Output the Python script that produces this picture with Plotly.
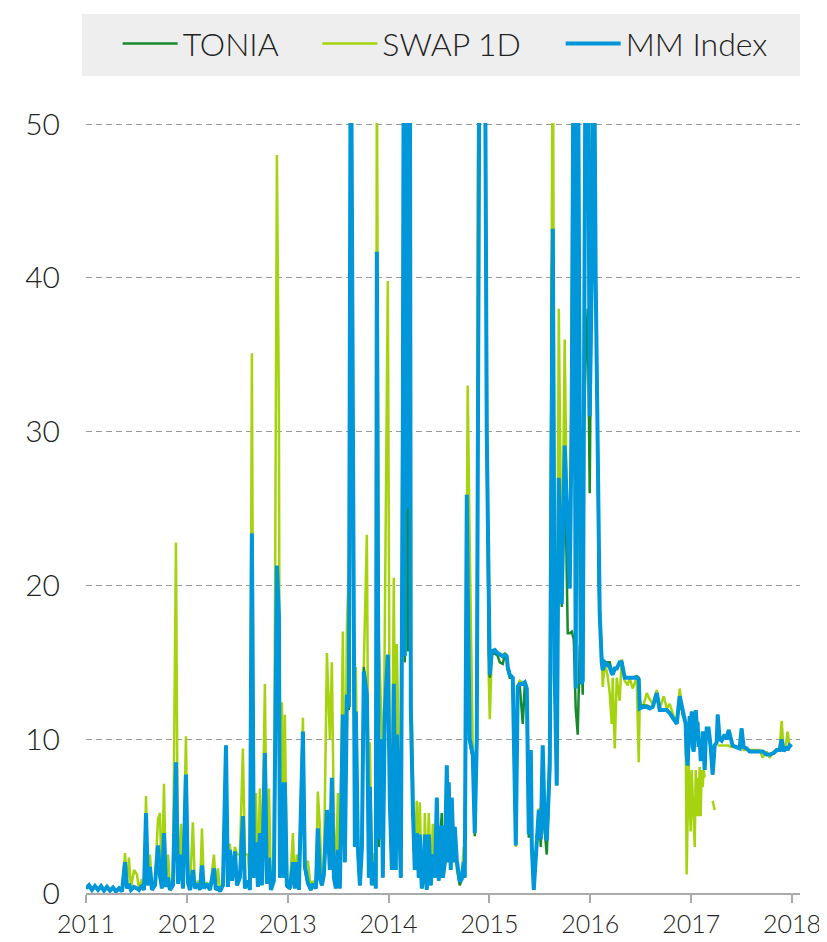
import pandas as pd
import numpy as np
import plotly.graph_objects as go

# time in years since 2011-01-01 (shared by all series)
t_years = [
    0.000, 0.030, 0.059, 0.089, 0.119, 0.149, 0.178, 0.208, 0.238, 0.268,
    0.297, 0.327, 0.357, 0.387, 0.406, 0.426, 0.446, 0.476, 0.505, 0.525,
    0.555, 0.575, 0.595, 0.614, 0.634, 0.654, 0.684, 0.714, 0.733, 0.753,
    0.773, 0.793, 0.813, 0.833, 0.862, 0.892, 0.912, 0.942, 0.961, 0.991,
    1.011, 1.031, 1.060, 1.080, 1.110, 1.130, 1.150, 1.169, 1.199, 1.229,
    1.269, 1.288, 1.308, 1.328, 1.358, 1.388, 1.407, 1.427, 1.447, 1.477,
    1.497, 1.526, 1.556, 1.576, 1.606, 1.625, 1.645, 1.665, 1.685, 1.705,
    1.724, 1.744, 1.774, 1.794, 1.814, 1.834, 1.863, 1.893, 1.913, 1.923,
    1.943, 1.962, 1.972, 1.992, 2.022, 2.052, 2.071, 2.091, 2.111, 2.151,
    2.170, 2.200, 2.230, 2.250, 2.280, 2.299, 2.319, 2.339, 2.359, 2.389,
    2.418, 2.438, 2.458, 2.478, 2.498, 2.517, 2.547, 2.567, 2.587, 2.607,
    2.626, 2.646, 2.666, 2.676, 2.696, 2.716, 2.736, 2.755, 2.785, 2.805,
    2.815, 2.834, 2.854, 2.874, 2.884, 2.904, 2.934, 2.943, 2.963, 2.993,
    3.013, 3.033, 3.052, 3.072, 3.082, 3.102, 3.122, 3.142, 3.152, 3.161,
    3.171, 3.181, 3.191, 3.201, 3.211, 3.221, 3.241, 3.260, 3.280, 3.300,
    3.310, 3.330, 3.350, 3.360, 3.379, 3.399, 3.419, 3.439, 3.459, 3.479,
    3.498, 3.508, 3.528, 3.538, 3.558, 3.578, 3.588, 3.597, 3.617, 3.627,
    3.647, 3.657, 3.677, 3.696, 3.706, 3.726, 3.746, 3.756, 3.776, 3.785,
    3.805, 3.835, 3.855, 3.875, 3.885, 3.904, 3.934, 3.954, 3.974, 3.994,
    4.004, 4.024, 4.053, 4.083, 4.103, 4.133, 4.153, 4.172, 4.182, 4.202,
    4.232, 4.262, 4.281, 4.301, 4.331, 4.351, 4.371, 4.391, 4.411, 4.421,
    4.440, 4.470, 4.490, 4.510, 4.529, 4.549, 4.569, 4.599, 4.619, 4.629,
    4.648, 4.668, 4.688, 4.718, 4.747, 4.777, 4.797, 4.817, 4.837, 4.856,
    4.876, 4.896, 4.906, 4.926, 4.936, 4.956, 4.975, 4.995, 5.015, 5.035,
    5.054, 5.074, 5.084, 5.094, 5.114, 5.124, 5.144, 5.173, 5.193, 5.213,
    5.223, 5.243, 5.263, 5.292, 5.312, 5.342, 5.372, 5.391, 5.421, 5.461,
    5.481, 5.491, 5.520, 5.560, 5.590, 5.620, 5.660, 5.689, 5.729, 5.759,
    5.788, 5.828, 5.858, 5.887, 5.917, 5.946, 5.956, 5.966, 5.976, 5.986,
    5.996, 6.006, 6.016, 6.026, 6.036, 6.046, 6.055, 6.065, 6.075, 6.085,
    6.095, 6.105, 6.115, 6.125, 6.135, 6.145, 6.155, 6.174, 6.194, 6.214,
    6.234, 6.254, 6.264, 6.283, 6.303, 6.333, 6.353, 6.373, 6.393, 6.412,
    6.442, 6.482, 6.501, 6.521, 6.551, 6.581, 6.630, 6.680, 6.710, 6.749,
    6.779, 6.819, 6.848, 6.878, 6.898, 6.918, 6.938, 6.957, 6.977, 6.997,
]

tonia = [
    .3, .5, .2, .45, .2, .45, .15, .4, .15, .35,
    .1, .3, .1, 1.8, .3, .5, .2, .4, .3, .2,
    .5, .2, 5.0, .5, 1.6, .2, .5, 2.8, 1.0, .3,
    3.6, .4, 1.0, .2, .5, 8.3, .6, 2.3, .3, 7.5,
    .7, .2, 1.4, .3, .6, .2, 1.7, .3, .6, .2,
    1.5, .2, .3, .1, .5, 9.5, .4, 2.6, .8, 2.5,
    .5, 1.0, 4.8, .3, .8, .2, 23.0, 1.0, 3.1, .4,
    3.7, .5, 9.0, .6, 2.2, .2, .8, 21.2, 17.8, 1.0,
    7.0, 1.0, 7.0, .4, .3, 1.8, .3, 1.8, .2, 10.3,
    1.5, .6, .2, .6, .3, 4.0, 1.0, .5, 1.2, 5.3,
    1.5, 7.3, 1.0, .3, 2.5, .3, 11.4, 2.0, 12.7, 11.9,
    60, 24.5, 3.0, 11.6, 2.7, .5, 3.0, 14.7, 12.7, 1.0,
    6.8, .5, 2.0, .3, 41.5, 3.0, 10.0, 1.0, 11.6, 15.3,
    5.7, 1.5, 13.4, 1.5, 10.1, 5.5, 1.0, 30.8, 60, 15.0,
    21.1, 60, 15.7, 60, 60, 12, 5.4, 1.5, 3.7, 1.0,
    3.6, .3, 1.2, 3.6, .2, 3.6, .5, 2.5, 1.0, 6.0,
    .8, 3.0, 5.2, 1.0, 2.0, 8.1, 2.0, 7.0, 1.5, 6.0,
    2.0, 4.2, 1.9, 1.0, .5, .9, 2.0, 1.0, 25.7, 20,
    9.8, 8.8, 3.7, 10, 28.6, 60, 60, 60, 29.7, 15.7,
    14.0, 15.5, 15.6, 15.4, 15.0, 14.9, 15.5, 15.3, 14.5, 14.0,
    14.0, 3.1, 13.0, 13.5, 11.0, 13.5, 12.5, 3.6, 8.8, 3.0,
    .2, 3.5, 5.2, 3.0, 9.0, 4.0, 2.5, 8.0, 40.5, 43,
    14, 7.0, 26.8, 18.6, 28.9, 16.9, 16.9, 17.0, 16.5, 12.0,
    10.3, 16, 16.5, 12.9, 30, 35, 38.0, 26, 40, 60,
    40, 29.8, 20, 18, 15.5, 14.5, 15.0, 15.0, 15.0, 14.5,
    14.2, 14.6, 14.6, 15.0, 15.0, 14.0, 14.0, 14.0, 14.0, 14.1,
    14.0, 12.2, 12.2, 12.2, 12.1, 12.1, 13.0, 12.0, 11.9, 11.9,
    11.7, 11.3, 11.0, 12.8, 11.7, 11.0, 9.0, 8.3, 10.0, 11.5,
    10.5, 11.8, 9.5, 9.2, 10.5, 11.9, 11.0, 11.0, 9.5, 10.0,
    8.7, 8.7, 10.5, 9.0, 8.0, 9.9, 10.7, 10.7, 9.5, 7.7,
    9.6, 9.8, 11.6, 10.0, 9.9, 10.3, 10.0, 10.6, 10.0, 9.6,
    9.5, 9.4, 10.7, 9.5, 9.4, 9.2, 9.2, 9.2, 9.2, 9.0,
    9.0, 9.1, 9.3, 9.3, 10.0, 9.2, 9.5, 9.3, 9.6, 9.5,
]

swap_1d = [
    .3, .5, .2, .45, .2, .45, .15, .4, .15, .35,
    .1, .3, .2, 2.6, .5, 2.3, .3, 1.5, 1.2, .3,
    .9, .2, 6.3, .8, 2.5, .3, .8, 4.8, 5.2, .4,
    7.1, .6, 2.5, .3, .6, 22.8, .8, 4.5, .4, 10.2,
    1.0, .3, 4.6, .4, .8, .2, 4.2, .4, .7, .2,
    2.5, .3, 1.6, .2, .6, 9.6, .5, 3.2, 1.0, 3.0,
    2.5, 2.5, 9.4, 2.5, 2.5, .3, 35.1, 1.5, 6.5, .5,
    6.8, .8, 13.6, 1.0, 6.8, .3, 1.0, 48.0, 31.2, 1.5,
    12.4, 1.2, 11.6, .8, .5, 3.9, .4, 2.5, .3, 11.4,
    1.6, 2.1, .3, .8, .4, 6.6, 4.3, .7, 1.5, 15.6,
    10.0, 15.0, 4.6, .8, 6.5, .5, 17.0, 3.0, 17.3, 21.3,
    60, 25, 4.0, 14.7, 3.0, .8, 3.5, 14.8, 23.3, 1.5,
    9.8, .8, 2.6, .5, 55, 16.5, 10.3, 1.5, 17.3, 39.8,
    6.0, 2.5, 20.5, 2.5, 16.2, 8.0, 1.5, 40, 60, 30,
    60, 60, 40, 60, 60, 15, 8.0, 2.0, 6.0, 1.5,
    5.9, .5, 1.5, 5.2, .3, 5.2, .8, 4.5, 1.5, 6.0,
    3.0, 2.5, 4.5, 1.0, 1.5, 8.0, 2.0, 7.0, 1.5, 6.1,
    2.0, 4.3, 1.5, 1.0, .6, 1.1, 3.0, 1.5, 26.7, 33.0,
    22.7, 9.5, 4.5, 12, 47.9, 60, 60, 60, 35, 14,
    11.3, 15.6, 15.8, 15.6, 15.5, 15.5, 15.6, 15.5, 14.5, 14.2,
    14.0, 3.0, 13.5, 13.8, 13.7, 13.6, 13.5, 3.9, 9.0, 3.0,
    .2, 3.8, 5.5, 3.5, 9.3, 4.5, 3.5, 10.3, 42.0, 60,
    15, 7.5, 38.0, 19, 36.0, 20, 20, 40.1, 60, 25,
    30, 20, 14, 20, 33, 60, 60, 30, 50, 60,
    40, 30, 21, 18, 15.5, 13.4, 15.0, 14.1, 13.0, 11.0,
    14.0, 9.4, 14.0, 12.5, 15.2, 13.8, 13.5, 14.0, 13.3, 14.0,
    8.5, 12.5, 12.0, 13.0, 12.6, 12.3, 13.2, 12.0, 12.8, 12.0,
    12.3, 11.5, 11.2, 13.3, 11.5, 11.2, 1.2, 7.0, 8.5, 6.0,
    4.0, 8.0, 6.0, 5.0, 3.0, 8.0, 5.0, 7.5, 5.0, 8.2,
    5.0, 8.0, 6.9, 8.0, 7.5, None, None, None, None, 6.0,
    5.4, None, 9.6, 9.6, 9.6, 9.6, 9.6, 9.6, 9.5, 9.5,
    9.5, 9.5, 9.5, 9.3, 9.3, 9.3, 9.3, 9.3, 8.8, 9.2,
    8.8, 9.2, 9.2, 9.4, 11.2, 9.3, 9.5, 10.5, 9.5, 9.6,
]

mm_index = [
    .3, .5, .2, .45, .2, .45, .15, .4, .15, .35,
    .1, .3, .1, 2.0, .3, .6, .2, .4, .3, .2,
    .5, .2, 5.2, .5, 1.7, .2, .5, 3.1, 1.2, .3,
    3.9, .4, 1.0, .2, .5, 8.5, .6, 2.5, .3, 7.7,
    .7, .2, 1.5, .3, .6, .2, 1.8, .3, .6, .2,
    1.6, .2, .4, .1, .5, 9.6, .4, 2.8, .8, 2.7,
    .5, 1.0, 5.0, .3, .8, .2, 23.4, 1.0, 3.3, .4,
    3.9, .5, 9.1, .6, 2.3, .2, .8, 21.3, 18.0, 1.0,
    7.2, 1.0, 7.2, .5, .3, 2.0, .3, 2.0, .2, 10.5,
    1.8, .65, .2, .6, .3, 4.2, 1.0, .5, 1.2, 5.4,
    1.5, 7.5, 1.0, .3, 2.8, .3, 11.6, 2.0, 12.9, 12.1,
    60, 24.7, 3.0, 11.8, 2.9, .5, 3.0, 14.4, 12.9, 1.0,
    6.9, .5, 2.0, .3, 41.7, 3.5, 10.0, 1.0, 11.8, 15.5,
    5.9, 1.5, 13.6, 1.5, 10.3, 5.7, 1.0, 31.0, 60, 15.4,
    60, 60, 25, 60, 60, 12, 5.6, 1.5, 3.9, 1.0,
    3.8, .3, 1.3, 3.8, .2, 3.8, .5, 2.5, 1.0, 6.2,
    .8, 3.0, 4.4, 1.0, 2.0, 8.3, 2.0, 7.2, 1.5, 6.2,
    2.0, 4.3, 2.1, 1.0, .75, .9, 2.0, 1.0, 25.9, 20,
    10.0, 9.0, 3.9, 10, 28.8, 60, 60, 60, 29.9, 15.9,
    14.2, 15.7, 15.8, 15.6, 15.5, 15.4, 15.5, 15.4, 14.7, 14.2,
    14.0, 3.1, 13.4, 13.6, 13.6, 13.7, 13.3, 3.8, 9.3, 3.0,
    .2, 3.8, 5.4, 3.5, 9.6, 4.3, 3.4, 8.3, 40.7, 43.2,
    14.2, 7.0, 27.0, 18.8, 29.1, 23.4, 19.8, 31.2, 60, 13.3,
    60, 31, 13.6, 13.8, 34.5, 60, 60, 31, 40, 60,
    40, 29.9, 21, 18.2, 15.0, 14.5, 15.0, 14.8, 14.7, 14.3,
    14.2, 14.6, 14.6, 15.0, 15.0, 14.0, 14.0, 14.0, 14.0, 14.0,
    13.9, 12.0, 12.1, 12.1, 12.0, 12.1, 13.0, 11.9, 11.9, 11.9,
    11.7, 11.3, 11.0, 12.8, 11.7, 11.0, 9.0, 8.3, 10.0, 11.5,
    10.5, 11.8, 9.5, 9.2, 10.5, 11.9, 11.0, 11.0, 9.5, 10.0,
    8.7, 8.7, 10.5, 9.0, 8.0, 9.9, 10.7, 10.7, 9.5, 7.7,
    9.6, 9.8, 11.6, 10.0, 9.9, 10.3, 10.0, 10.6, 10.0, 9.6,
    9.5, 9.4, 10.7, 9.5, 9.4, 9.2, 9.2, 9.2, 9.2, 9.0,
    9.0, 9.1, 9.3, 9.3, 10.0, 9.2, 9.5, 9.3, 9.6, 9.5,
]

assert len(t_years) == len(tonia) == len(swap_1d) == len(mm_index), (
    len(t_years), len(tonia), len(swap_1d), len(mm_index))

x_tick_labels = ["2011", "2012", "2013", "2014", "2015", "2016", "2017", "2018"]
y_ticks = [0, 10, 20, 30, 40, 50]
series_names = ["TONIA", "SWAP 1D", "MM Index"]

start = pd.Timestamp("2011-01-01")
dates = start + pd.to_timedelta(np.array(t_years) * 365.25, unit="D")
tick_dates = [pd.Timestamp(f"{y}-01-01") for y in x_tick_labels]

GAP = "\u00a0" * 4  # spacing between legend entries

fig = go.Figure()
fig.add_trace(go.Scatter(x=dates, y=swap_1d, name=series_names[1] + GAP, mode="lines",
                         line=dict(color="#a5d30f", width=2.5), legendrank=2,
                         connectgaps=False))
fig.add_trace(go.Scatter(x=dates, y=tonia, name=series_names[0] + GAP, mode="lines",
                         line=dict(color="#178a2c", width=2.5), legendrank=1))
fig.add_trace(go.Scatter(x=dates, y=mm_index, name=series_names[2], mode="lines",
                         line=dict(color="#0096da", width=4), legendrank=3))

# grey band behind the legend
fig.add_shape(type="rect", xref="paper", yref="paper",
              x0=-0.0056, x1=1.0, y0=1.061, y1=1.1416,
              fillcolor="#eeeeee", line=dict(width=0), layer="below")

# the page adds an 8px body margin, so the figure is 8px smaller
fig.update_layout(
    width=819, height=934,
    margin=dict(l=78, r=27, t=115, b=49, autoexpand=False),
    plot_bgcolor="white", paper_bgcolor="white",
    font=dict(family="Lato", color="#222222", weight=300),
    showlegend=True,
    legend=dict(orientation="h", x=0.503, xanchor="center", y=1.103,
                yanchor="middle", font=dict(size=32, weight=300),
                bgcolor="rgba(0,0,0,0)", itemwidth=55,
                traceorder="normal"),
    xaxis=dict(range=[pd.Timestamp("2011-01-01"), pd.Timestamp("2018-01-30")],
               tickvals=tick_dates, ticktext=x_tick_labels,
               showgrid=False, zeroline=False,
               showline=True, linecolor="#aaaaaa", linewidth=1.5,
               ticks="outside", ticklen=8, tickcolor="#aaaaaa", tickwidth=1.5,
               tickfont=dict(size=25)),
    yaxis=dict(range=[0, 50.08], tickvals=y_ticks, ticktext=[str(v) for v in y_ticks],
               showgrid=True, gridcolor="#9a9a9a", griddash="6px,4px", gridwidth=1.2,
               zeroline=False, showline=False, ticks="",
               ticklabelstandoff=25, tickfont=dict(size=30)),
)

fig.write_html("out.html")
